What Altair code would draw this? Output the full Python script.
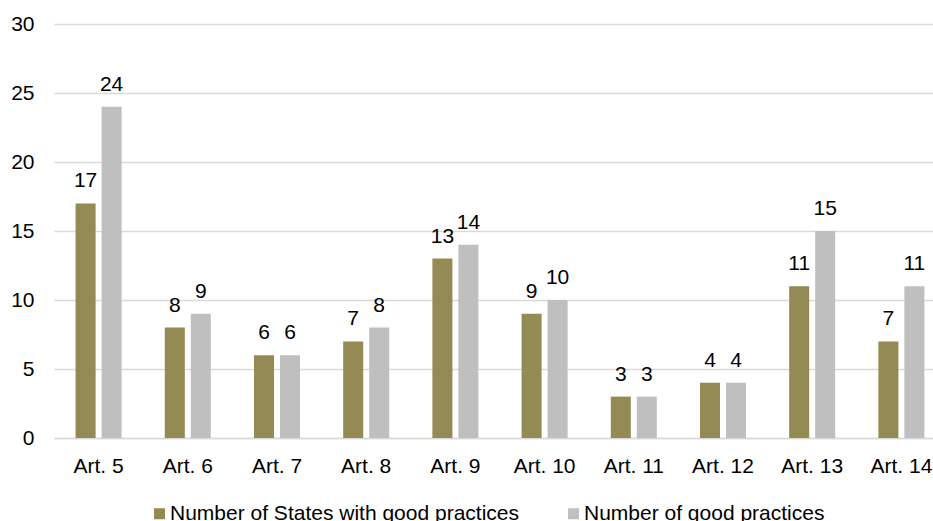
import altair as alt
import pandas as pd

articles = ["Art. 5", "Art. 6", "Art. 7", "Art. 8", "Art. 9",
            "Art. 10", "Art. 11", "Art. 12", "Art. 13", "Art. 14"]
states = [17, 8, 6, 7, 13, 9, 3, 4, 11, 7]
practices = [24, 9, 6, 8, 14, 10, 3, 4, 15, 11]
series = ["Number of States with good practices", "Number of good practices"]
colors = ["#948A54", "#BFBFBF"]
y_ticks = [0, 5, 10, 15, 20, 25, 30]

rows = []
for a, s, p in zip(articles, states, practices):
    rows.append({"article": a, "series": series[0], "value": s})
    rows.append({"article": a, "series": series[1], "value": p})
df = pd.DataFrame(rows)

FONT = "Liberation Sans"
FS = 21

base = alt.Chart(df).encode(
    x=alt.X("article:N", sort=articles,
            scale=alt.Scale(range=[0, 892], paddingInner=0.484, paddingOuter=0.242),
            axis=alt.Axis(title=None, labelAngle=0, ticks=False, domain=True,
                          domainColor="#D9D9D9", domainWidth=1.5,
                          labelBaseline="alphabetic", labelPadding=34,
                          labelFont=FONT, labelFontSize=FS, labelColor="#000000")),
    xOffset=alt.XOffset("series:N", sort=series,
                        scale=alt.Scale(paddingInner=0.23, paddingOuter=0)),
    y=alt.Y("value:Q", scale=alt.Scale(domain=[0, 30]),
            axis=alt.Axis(title=None, values=y_ticks, ticks=False, domain=False,
                          grid=True, gridColor="#D9D9D9", gridWidth=1.5,
                          labelPadding=20, labelFont=FONT, labelFontSize=FS,
                          labelColor="#000000")),
)

bars = base.mark_bar().encode(
    color=alt.Color("series:N", sort=series,
                    scale=alt.Scale(domain=series, range=colors),
                    legend=alt.Legend(title=None, orient="none", legendX=95, legendY=479,
                                      direction="horizontal", symbolType="square",
                                      symbolSize=121, symbolStrokeWidth=0,
                                      labelFont=FONT, labelFontSize=FS,
                                      labelColor="#000000", columnPadding=43,
                                      labelOffset=0, padding=0, labelLimit=0))
)

labels = base.mark_text(dy=-16, baseline="alphabetic", font=FONT, fontSize=FS,
                        color="#000000").encode(text="value:Q")

chart = alt.layer(bars, labels).properties(
    width=879, height=414,
    autosize=alt.AutoSizeParams(type="none"),
    padding={"left": 54, "top": 24, "right": 0, "bottom": 83},
).configure_view(stroke=None)

chart.save("out.html", embed_options={"renderer": "svg", "actions": False})
